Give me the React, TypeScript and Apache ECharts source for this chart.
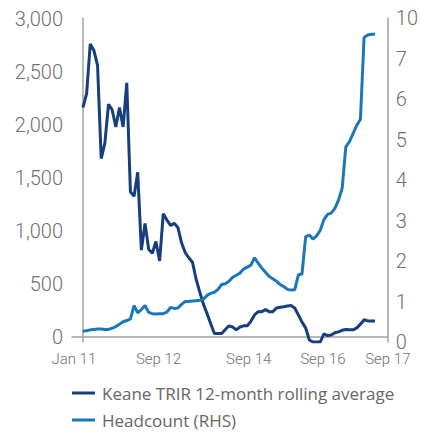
import React, { useEffect, useRef } from "react";
import * as echarts from "echarts";

// Monthly data, Jan 11 .. Sep 17 (81 months)
// TRIR plotted against the right-hand scale
const trir: number[] = [
  5.79, 6.13, 7.36, 7.2, 6.83, 4.53, 4.91, 5.87, 5.73, 5.31,
  5.79, 5.31, 6.4, 3.71, 3.6, 4.19, 2.27, 2.93, 2.29, 2.19,
  2.48, 2.0, 3.17, 3.01, 2.88, 2.93, 2.83, 2.45, 2.21, 2.08,
  1.97, 1.55, 1.23, 0.93, 0.7, 0.45, 0.21, 0.21, 0.21, 0.31,
  0.4, 0.37, 0.3, 0.37, 0.4, 0.4, 0.51, 0.67, 0.75, 0.75,
  0.8, 0.75, 0.75, 0.84, 0.86, 0.87, 0.89, 0.9, 0.84, 0.67,
  0.49, 0.35, 0.05, 0, 0, 0, 0.2, 0.16, 0.17, 0.23,
  0.25, 0.29, 0.31, 0.3, 0.3, 0.35, 0.44, 0.55, 0.52, 0.52,
  0.52,
];

// Headcount plotted against the left-hand scale
const headcount: number[] = [
  51, 55, 63, 67, 71, 71, 67, 67, 78, 94,
  117, 140, 151, 166, 293, 224, 255, 293, 228, 216,
  212, 216, 216, 232, 274, 266, 270, 304, 331, 331,
  335, 339, 343, 354, 389, 408, 419, 446, 492, 500,
  523, 561, 580, 600, 638, 657, 676, 745, 695, 646,
  607, 569, 546, 523, 492, 473, 446, 439, 442, 584,
  592, 945, 960, 922, 952, 1006, 1106, 1155, 1167, 1213,
  1290, 1405, 1795, 1845, 1922, 1999, 2056, 2830, 2853, 2861,
  2861,
];

const seriesNames = ["Keane TRIR 12-month rolling average", "Headcount (RHS)"];
const xTickLabels = ["Jan 11", "Sep 12", "Sep 14", "Sep 16", "Sep 17"];
const xTickMonths = [-2.5, 20.7, 45.4, 65.7, 83.5];
const lhsTickValues = [0, 500, 1000, 1500, 2000, 2500, 3000];
const rhsTickLabels = ["0", "1", "2", "3", "4", "5", "6", "7", "10"];

const AXIS_FONT = "Roboto, 'Open Sans', sans-serif";
const LABEL_COLOR = "#707070";
const AXIS_COLOR = "#a0a0a0";

export default function App() {
  const ref = useRef<HTMLDivElement>(null);
  useEffect(() => {
    if (!ref.current) return;
    const chart = echarts.init(ref.current, undefined, { renderer: "svg" });
    chart.setOption({
      animation: false,
      backgroundColor: "#ffffff",
      grid: { left: 72, right: 33, top: 18, bottom: 92, containLabel: false },
      legend: {
        orient: "vertical",
        left: 72,
        top: 384,
        padding: 0,
        icon: "rect",
        itemWidth: 23,
        itemHeight: 3,
        itemGap: 9,
        textStyle: {
          fontFamily: "'Open Sans', sans-serif",
          fontSize: 17,
          color: "#666666",
          lineHeight: 18,
          padding: [0, 0, 0, 2],
        },
        data: seriesNames,
      },
      xAxis: {
        type: "value",
        min: -3,
        max: 83.5,
        splitLine: { show: false },
        axisLine: { show: true, lineStyle: { color: AXIS_COLOR, width: 1.5 } },
        axisTick: { show: false },
        axisLabel: {
          customValues: xTickMonths,
          formatter: (v: number) => {
            const i = xTickMonths.findIndex((m) => Math.abs(m - v) < 0.01);
            return i >= 0 ? xTickLabels[i] : "";
          },
          fontFamily: AXIS_FONT,
          fontWeight: 300,
          fontSize: 15,
          color: LABEL_COLOR,
          margin: 9,
        },
      },
      yAxis: [
        {
          type: "value",
          min: -52,
          max: 3014,
          position: "left",
          splitLine: { show: false },
          axisLine: { show: true, lineStyle: { color: AXIS_COLOR, width: 1.5 } },
          axisTick: { show: false },
          axisLabel: {
            customValues: lhsTickValues,
            formatter: (v: number) => v.toLocaleString("en-US"),
            fontFamily: AXIS_FONT,
            fontWeight: 300,
            fontSize: 20,
            color: LABEL_COLOR,
            margin: 9,
          },
        },
        {
          type: "value",
          min: 0,
          max: 8,
          interval: 1,
          position: "right",
          splitLine: { show: false },
          axisLine: { show: true, lineStyle: { color: AXIS_COLOR, width: 1.5 } },
          axisTick: { show: false },
          axisLabel: {
            formatter: (v: number) => rhsTickLabels[Math.round(v)] ?? "",
            fontFamily: AXIS_FONT,
            fontWeight: 300,
            fontSize: 20,
            color: LABEL_COLOR,
            margin: 8,
          },
        },
      ],
      series: [
        {
          name: seriesNames[0],
          type: "line",
          yAxisIndex: 1,
          symbol: "none",
          lineStyle: { color: "#173f7d", width: 3 },
          itemStyle: { color: "#173f7d" },
          data: trir.map((v, i) => [i, v]),
        },
        {
          name: seriesNames[1],
          type: "line",
          yAxisIndex: 0,
          symbol: "none",
          lineStyle: { color: "#1c77ba", width: 3 },
          itemStyle: { color: "#1c77ba" },
          data: headcount.map((v, i) => [i, v]),
        },
      ],
    });
    return () => chart.dispose();
  }, []);
  return (
    <div
      ref={ref}
      style={{ position: "fixed", left: 0, top: 0, width: 421, height: 434 }}
    />
  );
}
